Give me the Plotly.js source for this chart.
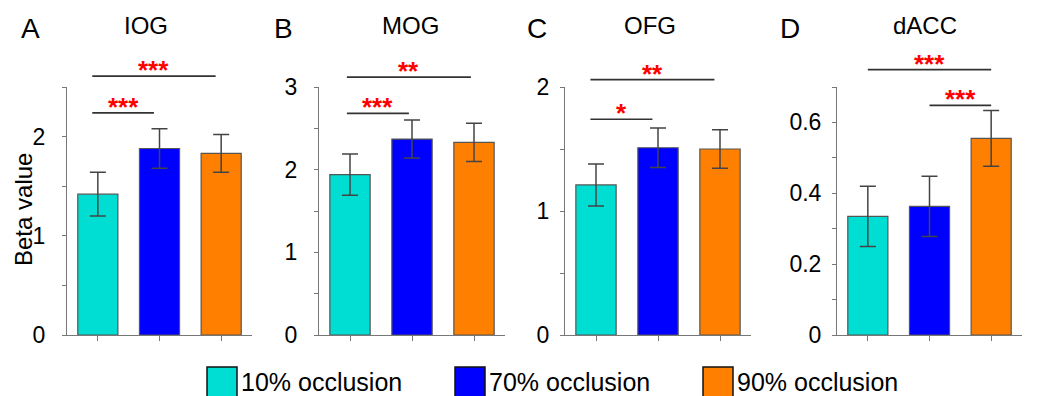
<!DOCTYPE html>
<html>
<head>
<meta charset="utf-8">
<script src="https://cdn.plot.ly/plotly-3.0.1.min.js"></script>
<style>html,body{margin:0;padding:0;background:#fff;}#chart{width:1044px;height:396px;}</style>
</head>
<body>
<div id="chart"></div>
<script>
// ---- data ----
const categories = ['10% occlusion', '70% occlusion', '90% occlusion'];
const regions = ['IOG', 'MOG', 'OFG', 'dACC'];
const panelLetters = ['A', 'B', 'C', 'D'];

const iogMeans = [1.42, 1.88, 1.83];
const iogErrors = [0.22, 0.20, 0.19];
const mogMeans = [1.94, 2.37, 2.33];
const mogErrors = [0.25, 0.23, 0.23];
const ofgMeans = [1.21, 1.51, 1.50];
const ofgErrors = [0.17, 0.16, 0.155];
const daccMeans = [0.335, 0.363, 0.555];
const daccErrors = [0.085, 0.085, 0.079];

// significance brackets: from / to category index, level (beta), label
const iogSigFrom = [0, 0], iogSigTo = [2, 1], iogSigLevel = [2.61, 2.24], iogSigLabel = ['***', '***'];
const mogSigFrom = [0, 0], mogSigTo = [2, 1], mogSigLevel = [3.12, 2.68], mogSigLabel = ['**', '***'];
const ofgSigFrom = [0, 0], ofgSigTo = [2, 1], ofgSigLevel = [2.06, 1.74], ofgSigLabel = ['**', '*'];
const daccSigFrom = [0, 1], daccSigTo = [2, 2], daccSigLevel = [0.749, 0.648], daccSigLabel = ['***', '***'];

// y tick values and labels
const iogTickVals = [0, 0.5, 1, 1.5, 2, 2.5];
const iogTickText = ['0', '', '1', '', '2', ''];
const mogTickVals = [0, 0.5, 1, 1.5, 2, 2.5, 3];
const mogTickText = ['0', '', '1', '', '2', '', '3'];
const ofgTickVals = [0, 0.5, 1, 1.5, 2];
const ofgTickText = ['0', '', '1', '', '2'];
const daccTickVals = [0, 0.1, 0.2, 0.3, 0.4, 0.5, 0.6, 0.7];
const daccTickText = ['0', '', '0.2', '', '0.4', '', '0.6', ''];
const yLabel = 'Beta value';

// ---- styling ----
const colors = ['#00DDD2', '#0000FF', '#FF8000'];
const FONT = 'Liberation Sans, Arial, Helvetica, sans-serif';
const W = 1044, H = 396;
const px = v => v / W, py = v => 1 - v / H;
const Y0 = 335, YTOP = 87, YEXT = 40;   // pixel rows: zero line, axis top, bracket area top

const panels = [
  {means: iogMeans, errs: iogErrors, from: iogSigFrom, to: iogSigTo, lvl: iogSigLevel, lab: iogSigLabel,
   tv: iogTickVals, tt: iogTickText, ymax: 2.5, dom: [67, 252], letterX: 30, titleX: 146, shift: -0.09, stand: 12},
  {means: mogMeans, errs: mogErrors, from: mogSigFrom, to: mogSigTo, lvl: mogSigLevel, lab: mogSigLabel,
   tv: mogTickVals, tt: mogTickText, ymax: 3, dom: [319, 505], letterX: 283, titleX: 410, shift: -0.05, stand: 12},
  {means: ofgMeans, errs: ofgErrors, from: ofgSigFrom, to: ofgSigTo, lvl: ofgSigLevel, lab: ofgSigLabel,
   tv: ofgTickVals, tt: ofgTickText, ymax: 2, dom: [565, 751], letterX: 537, titleX: 650, shift: -0.09, stand: 6},
  {means: daccMeans, errs: daccErrors, from: daccSigFrom, to: daccSigTo, lvl: daccSigLevel, lab: daccSigLabel,
   tv: daccTickVals, tt: daccTickText, ymax: 0.7, dom: [837, 1022], letterX: 790, titleX: 925, shift: 0, stand: 6}
];

const data = [];
const layout = {
  width: W, height: H,
  margin: {l: 0, r: 0, t: 0, b: 0},
  paper_bgcolor: '#ffffff', plot_bgcolor: 'rgba(0,0,0,0)',
  showlegend: false,
  font: {family: FONT, color: '#000'},
  annotations: [], shapes: []
};

panels.forEach((p, i) => {
  const n = i === 0 ? '' : String(i + 1);
  const xa = 'x' + n, ya = 'y' + n;
  const yb = 'y' + (i + 5);          // hidden companion axis with the same scale, extended upward
  data.push({
    type: 'bar', x: [0, 1, 2], y: p.means, xaxis: xa, yaxis: ya,
    width: 0.65,
    marker: {color: colors, line: {color: '#555', width: 1.2}},
    error_y: {type: 'data', array: p.errs, visible: true, color: '#444', thickness: 1.5, width: 8},
    hoverinfo: 'skip'
  });
  layout['xaxis' + n] = {
    domain: [px(p.dom[0]), px(p.dom[1])], anchor: ya, range: [-0.5, 2.5],
    tickvals: [0, 1, 2], ticktext: ['', '', ''], ticks: 'outside', ticklen: 5, tickcolor: '#777',
    showline: true, linecolor: '#777', linewidth: 1, showgrid: false, zeroline: false, fixedrange: true
  };
  layout['yaxis' + n] = {
    domain: [py(Y0), py(YTOP)], anchor: xa, range: [0, p.ymax],
    tickvals: p.tv, ticktext: p.tt, ticks: 'outside', ticklen: 4, tickcolor: '#777',
    ticklabelstandoff: p.stand,
    tickfont: {size: 23, family: FONT, color: '#000'},
    showline: true, linecolor: '#777', linewidth: 1, showgrid: false, zeroline: false, fixedrange: true
  };
  layout['yaxis' + (i + 5)] = {
    domain: [py(Y0), py(YEXT)], anchor: xa, range: [0, p.ymax * (Y0 - YEXT) / (Y0 - YTOP)],
    visible: false, showgrid: false, zeroline: false, fixedrange: true
  };
  // panel letter & title
  layout.annotations.push({xref: 'paper', yref: 'paper', x: px(p.letterX), y: py(28), text: panelLetters[i],
    showarrow: false, xanchor: 'center', yanchor: 'middle', font: {size: 28, family: FONT, color: '#000'}});
  layout.annotations.push({xref: 'paper', yref: 'paper', x: px(p.titleX), y: py(25), text: regions[i],
    showarrow: false, xanchor: 'center', yanchor: 'middle', font: {size: 24, family: FONT, color: '#000'}});
  // significance brackets
  p.from.forEach((f, k) => {
    const x0 = f + p.shift, x1 = p.to[k] + p.shift;
    data.push({type: 'scatter', mode: 'lines', x: [x0, x1], y: [p.lvl[k], p.lvl[k]], xaxis: xa, yaxis: yb,
      line: {color: '#333', width: 1.7}, hoverinfo: 'skip', cliponaxis: false});
    layout.annotations.push({xref: xa, yref: yb, x: (x0 + x1) / 2, y: p.lvl[k], text: '<b>' + p.lab[k] + '</b>', showarrow: false,
      xanchor: 'center', yanchor: 'middle', yshift: 6, font: {size: 26, family: FONT, color: '#FF0000'}});
  });
});

// y-axis label
layout.annotations.push({xref: 'paper', yref: 'paper', x: px(23), y: py(210), text: yLabel, textangle: -90,
  showarrow: false, xanchor: 'center', yanchor: 'middle', font: {size: 24, family: FONT, color: '#000'}});

// manual legend
const legStart = 207, legStep = 248, legBox = 30;
categories.forEach((c, i) => {
  const x0 = legStart + i * legStep;
  layout.shapes.push({type: 'rect', xref: 'paper', yref: 'paper', x0: px(x0), x1: px(x0 + legBox),
    y0: py(398), y1: py(367), fillcolor: colors[i], line: {color: '#111', width: 1.5}});
  layout.annotations.push({xref: 'paper', yref: 'paper', x: px(x0 + legBox + 2), y: py(382), text: c,
    showarrow: false, xanchor: 'left', yanchor: 'middle', font: {size: 25, family: FONT, color: '#000'}});
});

Plotly.newPlot('chart', data, layout, {displayModeBar: false, staticPlot: true});
</script>
</body>
</html>
